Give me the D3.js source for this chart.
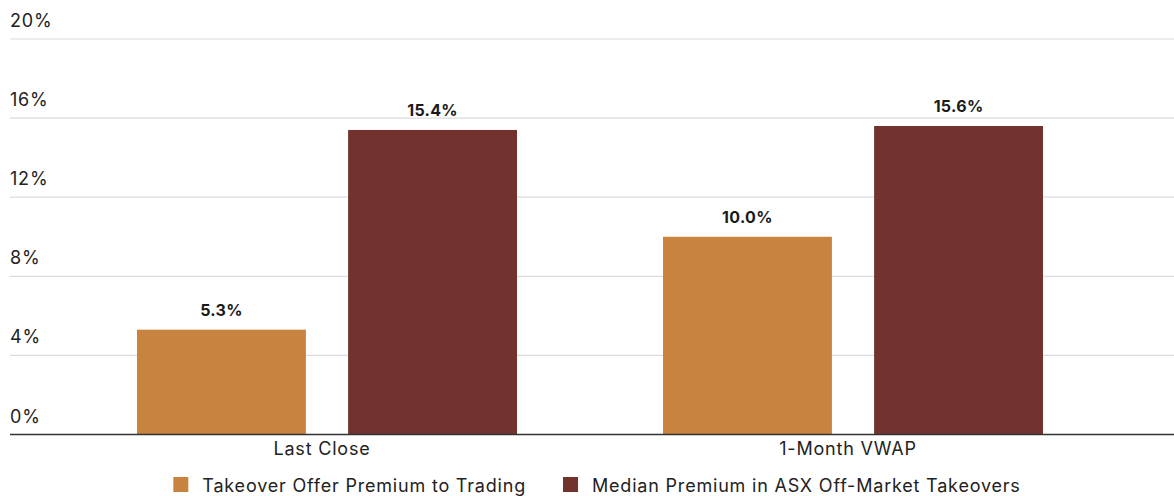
<!DOCTYPE html>
<html>
<head>
<meta charset="utf-8">
<script src="https://cdn.jsdelivr.net/npm/d3@7"></script>
<style>
  body { margin: 0; background: #fff; }
  svg { display: block; font-family: Inter, "Noto Sans", sans-serif; }
</style>
</head>
<body>
<svg class="chart"></svg>
<script>
    const width = 1174;
    const height = 496;

    const categories = ["Last Close", "1-Month VWAP"];
    const series = ["Takeover Offer Premium to Trading", "Median Premium in ASX Off-Market Takeovers"];
    const offerPremium = [5.3, 10.0];
    const medianPremium = [15.4, 15.6];
    const yTicks = [0, 4, 8, 12, 16, 20];
    const colors = ["#c8833f", "#72332f"];

    const values = [offerPremium, medianPremium];

    const svg = d3.select('.chart')
      .attr('width', width).attr('height', height);

    const y = d3.scaleLinear().domain([0, 20]).range([434.5, 39]);
    const x0 = d3.scaleBand().domain(categories).range([64, 1116]);
    const x1 = d3.scaleBand().domain(series).range([73, 453]).paddingInner(0.2);

    // gridlines + tick labels
    const grid = svg.append('g');
    grid.selectAll('line')
      .data(yTicks.filter(d => d > 0))
      .enter()
      .append('line')
      .attr('x1', 10).attr('x2', width)
      .attr('y1', d => y(d)).attr('y2', d => y(d))
      .style('stroke', '#dcdcdc')
      .style('stroke-width', 1.2);

    grid.selectAll('text')
      .data(yTicks)
      .enter()
      .append('text')
      .attr('x', 10)
      .attr('y', d => y(d) - 12)
      .style('font-size', '18px')
      .style('letter-spacing', '0.8px')
      .style('fill', '#222')
      .text(d => d + '%');

    // bars
    const groups = svg.selectAll('.group')
      .data(categories)
      .enter()
      .append('g')
      .attr('class', 'group')
      .attr('transform', d => `translate(${x0(d)},0)`);

    groups.selectAll('rect')
      .data((d, i) => series.map((s, j) => ({ s: s, v: values[j][i], j: j })))
      .enter()
      .append('rect')
      .attr('x', d => x1(d.s))
      .attr('y', d => y(d.v))
      .attr('width', x1.bandwidth())
      .attr('height', d => y(0) - y(d.v))
      .style('fill', d => colors[d.j]);

    groups.selectAll('.val')
      .data((d, i) => series.map((s, j) => ({ s: s, v: values[j][i] })))
      .enter()
      .append('text')
      .attr('class', 'val')
      .attr('x', d => x1(d.s) + x1.bandwidth() / 2)
      .attr('y', d => y(d.v) - 14)
      .attr('text-anchor', 'middle')
      .style('font-size', '16px')
      .style('font-weight', 700)
      .style('letter-spacing', '0.3px')
      .style('fill', '#1a1a1a')
      .text(d => d.v.toFixed(1) + '%');

    // baseline
    svg.append('line')
      .attr('x1', 10).attr('x2', width)
      .attr('y1', y(0)).attr('y2', y(0))
      .style('stroke', '#333')
      .style('stroke-width', 1.5);

    // category labels
    svg.selectAll('.cat')
      .data(categories)
      .enter()
      .append('text')
      .attr('class', 'cat')
      .attr('x', d => x0(d) + x0.bandwidth() / 2 - 5)
      .attr('y', 455)
      .attr('text-anchor', 'middle')
      .style('font-size', '18px')
      .style('letter-spacing', '0.8px')
      .style('fill', '#222')
      .text(d => d);

    // legend
    const legend = svg.append('g');
    const items = legend.selectAll('g')
      .data(series)
      .enter()
      .append('g');
    items.append('rect')
      .attr('width', 15).attr('height', 15)
      .attr('y', 477)
      .style('fill', (d, i) => colors[i]);
    items.append('text')
      .attr('x', 29)
      .attr('y', 492)
      .style('font-size', '18px')
      .style('letter-spacing', '0.8px')
      .style('fill', '#222')
      .text(d => d);

    let cursor = 0;
    const gap = 37;
    const widths = [];
    items.each(function () {
      widths.push(this.getBBox().width);
    });
    const total = d3.sum(widths) + gap * (widths.length - 1);
    cursor = 597 - total / 2;
    items.attr('transform', (d, i) => {
      const t = `translate(${cursor},0)`;
      cursor += widths[i] + gap;
      return t;
    });
</script>
</body>
</html>
